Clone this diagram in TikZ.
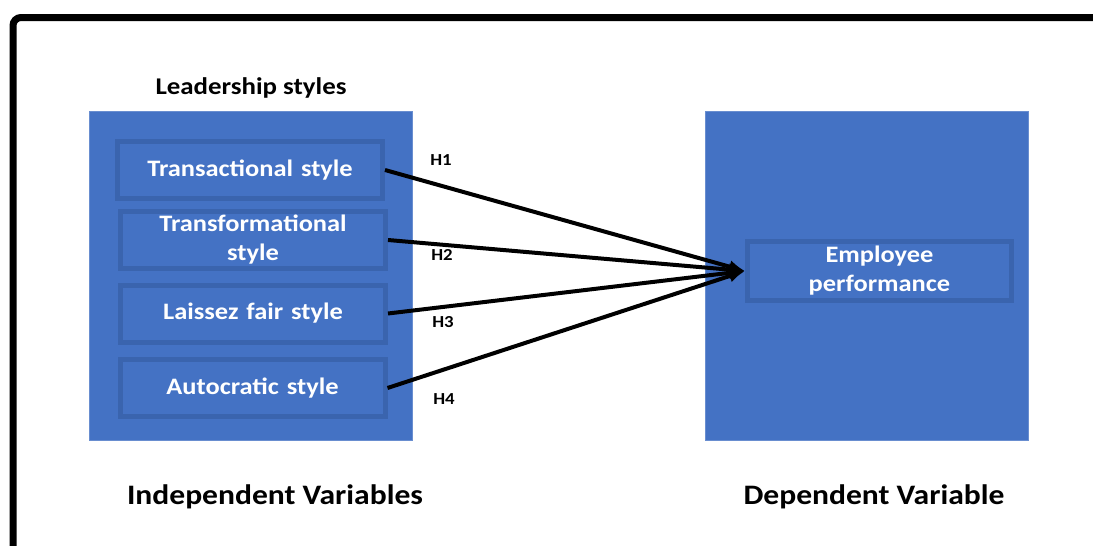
\documentclass[tikz,border=0pt]{standalone}
\usepackage{fontspec}
\setmainfont{Carlito}[FakeStretch=1.12]
\usetikzlibrary{arrows.meta}
\definecolor{boxblue}{HTML}{4472C4}
\definecolor{edgeblue}{HTML}{3A64AE}
\tikzset{
  panel/.style={fill=boxblue, draw=boxblue!80!white, line width=0.5pt,
    minimum width=161.5pt, minimum height=164.5pt, inner sep=0pt},
  stylebox/.style={fill=boxblue, draw=edgeblue, line width=2.5pt,
    minimum width=132.5pt, minimum height=28.5pt, inner sep=0pt,
    text=white, font=\bfseries\fontsize{11.8}{14.5}\selectfont,
    align=center, text width=128pt},
  hyp/.style={font=\bfseries\fontsize{8.4}{9}\selectfont},
  caption/.style={font=\bfseries\fontsize{14.1}{16}\selectfont}
}
\begin{document}
\begin{tikzpicture}[x=0.5pt, y=-0.5pt]
      \useasboundingbox (0,0) rectangle (1093,546);
      \clip (0,0) rectangle (1093,546);
      \fill[white] (0,0) rectangle (1093,546);
      \draw[line width=3.5pt, rounded corners=4pt] (13,570) -- (13,17.5) -- (1120,17.5);
      \draw
        (250.5,275.5) node[panel] (indep){}
        (867,275.5) node[panel] (dep){};
      \draw
        (251,88) node[font=\bfseries\fontsize{12}{14}\selectfont] (title){Leadership styles}
        (250,170) node[stylebox] (trans){Transactional style}
        (253,240) node[stylebox] (transf){Transformational\\style}
        (253,313.5) node[stylebox] (laissez){Laissez fair style}
        (252.5,388) node[stylebox] (auto){Autocratic style}
        (879.5,271) node[stylebox, minimum width=132pt, minimum height=29.5pt] (perf){Employee\\performance};
      \draw
        (441,160) node[hyp] (h1){H1}
        (442,255) node[hyp] (h2){H2}
        (443,322) node[hyp] (h3){H3}
        (444,399) node[hyp] (h4){H4};
      \draw
        (275,497) node[caption] (indeplabel){Independent Variables}
        (874,497) node[caption] (deplabel){Dependent Variable};
      \begin{scope}[line width=2pt, -{Latex[length=8pt,width=6.5pt]}]
        \draw (trans.east) to (perf.west);
        \draw (transf.east) to (perf.west);
        \draw (laissez.east) to (perf.west);
        \draw (auto.east) to (perf.west);
      \end{scope}
    \end{tikzpicture}
\end{document}
